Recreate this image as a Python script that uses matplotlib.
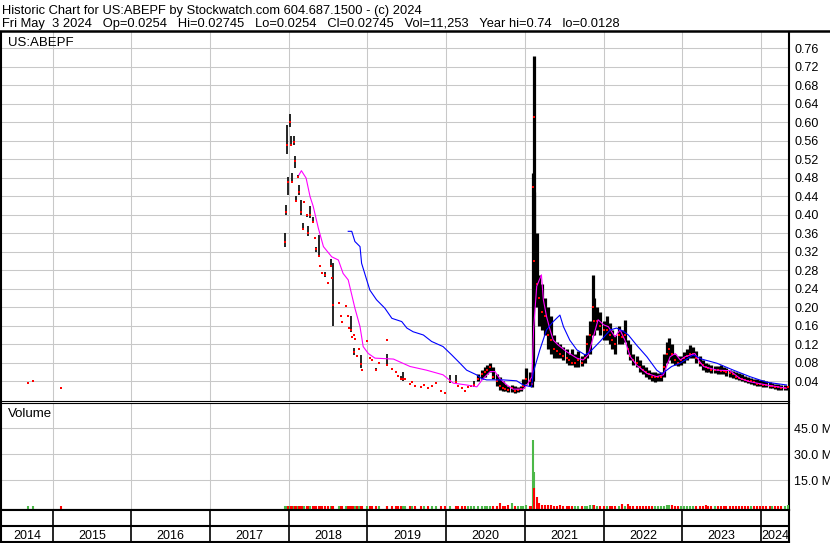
import numpy as np
import matplotlib
matplotlib.use("Agg")
import matplotlib.pyplot as plt
from matplotlib.lines import Line2D

plt.rcParams['font.family'] = ['Liberation Sans', 'DejaVu Sans']

### Datos (fechas en años fraccionarios, precios en USD, volumen en millones)
fechas = [2014.69, 2014.75, 2015.10,
          2017.95, 2017.97, 2017.975, 2017.985, 2018.02, 2018.03, 2018.045, 2018.065, 2018.08, 2018.09,
          2018.115, 2018.125, 2018.155, 2018.175, 2018.19, 2018.23, 2018.245, 2018.265, 2018.31, 2018.335,
          2018.345, 2018.385, 2018.40, 2018.42, 2018.465, 2018.50, 2018.53, 2018.55, 2018.565, 2018.64,
          2018.665, 2018.675, 2018.725, 2018.75, 2018.76, 2018.795, 2018.80, 2018.825, 2018.83, 2018.845,
          2018.87, 2018.895, 2018.92, 2018.93, 2019.0, 2019.03, 2019.06, 2019.11, 2019.145, 2019.245,
          2019.25, 2019.315, 2019.36, 2019.39, 2019.42, 2019.445, 2019.475, 2019.54, 2019.565, 2019.60,
          2019.675, 2019.72, 2019.77, 2019.82, 2019.87, 2019.935, 2019.985, 2020.05, 2020.12, 2020.15,
          2020.20, 2020.24, 2020.28, 2020.32, 2020.355,
          2020.41, 2020.45, 2020.49, 2020.52, 2020.56, 2020.60, 2020.64, 2020.68, 2020.72, 2020.75,
          2020.79, 2020.83, 2020.87, 2020.91, 2020.95, 2020.98, 2021.02, 2021.06, 2021.085, 2021.105,
          2021.112, 2021.12, 2021.15, 2021.18, 2021.22, 2021.26, 2021.30, 2021.33, 2021.37, 2021.41,
          2021.45, 2021.49, 2021.53, 2021.56, 2021.60, 2021.64, 2021.68, 2021.72, 2021.76, 2021.79,
          2021.83, 2021.86, 2021.88, 2021.92, 2021.96, 2022.00, 2022.04, 2022.08, 2022.11, 2022.15,
          2022.19, 2022.23, 2022.27, 2022.31, 2022.34, 2022.38, 2022.42, 2022.46, 2022.50, 2022.54,
          2022.58, 2022.61, 2022.65, 2022.69, 2022.73, 2022.77, 2022.81, 2022.83, 2022.87, 2022.91,
          2022.95, 2022.99, 2023.02, 2023.06, 2023.10, 2023.14, 2023.18, 2023.22, 2023.26, 2023.30,
          2023.33, 2023.37, 2023.41, 2023.45, 2023.49, 2023.53, 2023.56, 2023.60, 2023.64, 2023.68,
          2023.72, 2023.76, 2023.80, 2023.84, 2023.87, 2023.91, 2023.95, 2023.99, 2024.03, 2024.07,
          2024.11, 2024.14, 2024.18, 2024.22, 2024.26, 2024.30, 2024.34]
altos = [0.038, 0.041, 0.026,
         0.360, 0.420, 0.594, 0.482, 0.618, 0.570, 0.490, 0.570, 0.526, 0.440,
         0.485, 0.464, 0.432, 0.382, 0.430, 0.400, 0.375, 0.418, 0.396, 0.352,
         0.331, 0.356, 0.292, 0.277, 0.277, 0.255, 0.304, 0.265, 0.295, 0.212,
         0.182, 0.170, 0.205, 0.182, 0.158, 0.180, 0.137, 0.141, 0.111, 0.133,
         0.097, 0.111, 0.097, 0.066, 0.130, 0.092, 0.087, 0.068, 0.081, 0.131,
         0.100, 0.068, 0.062, 0.054, 0.051, 0.061, 0.047, 0.037, 0.041, 0.032,
         0.029, 0.035, 0.027, 0.032, 0.038, 0.022, 0.017, 0.054, 0.053, 0.032,
         0.027, 0.022, 0.030, 0.032, 0.040,
         0.055, 0.065, 0.070, 0.075, 0.079, 0.070, 0.055, 0.050, 0.040, 0.035,
         0.030, 0.032, 0.030, 0.028, 0.030, 0.045, 0.068, 0.060, 0.045, 0.490,
         0.742, 0.450, 0.360, 0.270, 0.250, 0.220, 0.200, 0.180, 0.140, 0.125,
         0.120, 0.115, 0.110, 0.100, 0.110, 0.100, 0.105, 0.095, 0.100, 0.140,
         0.170, 0.270, 0.220, 0.200, 0.190, 0.170, 0.180, 0.165, 0.150, 0.140,
         0.160, 0.150, 0.173, 0.130, 0.120, 0.100, 0.095, 0.085, 0.075, 0.070,
         0.065, 0.060, 0.060, 0.058, 0.060, 0.100, 0.125, 0.133, 0.120, 0.100,
         0.095, 0.095, 0.104, 0.110, 0.118, 0.115, 0.105, 0.095, 0.085, 0.080,
         0.078, 0.075, 0.073, 0.072, 0.075, 0.070, 0.068, 0.065, 0.063, 0.060,
         0.057, 0.055, 0.052, 0.050, 0.048, 0.045, 0.044, 0.043, 0.042, 0.040,
         0.038, 0.036, 0.035, 0.034, 0.033, 0.032, 0.030]
bajos = [0.036, 0.040, 0.026,
         0.330, 0.400, 0.530, 0.443, 0.590, 0.550, 0.468, 0.550, 0.500, 0.428,
         0.480, 0.443, 0.400, 0.367, 0.425, 0.395, 0.353, 0.392, 0.382, 0.347,
         0.320, 0.309, 0.288, 0.273, 0.266, 0.251, 0.288, 0.261, 0.160, 0.208,
         0.178, 0.166, 0.201, 0.178, 0.154, 0.147, 0.133, 0.137, 0.097, 0.129,
         0.093, 0.107, 0.068, 0.062, 0.126, 0.088, 0.083, 0.062, 0.077, 0.127,
         0.072, 0.064, 0.058, 0.050, 0.043, 0.040, 0.043, 0.033, 0.037, 0.028,
         0.025, 0.031, 0.023, 0.028, 0.034, 0.018, 0.013, 0.036, 0.036, 0.028,
         0.023, 0.018, 0.026, 0.028, 0.028,
         0.040, 0.045, 0.050, 0.055, 0.060, 0.045, 0.030, 0.021, 0.020, 0.018,
         0.016, 0.017, 0.015, 0.016, 0.018, 0.025, 0.035, 0.030, 0.028, 0.040,
         0.200, 0.220, 0.200, 0.160, 0.150, 0.140, 0.110, 0.100, 0.090, 0.090,
         0.090, 0.085, 0.080, 0.075, 0.075, 0.070, 0.070, 0.072, 0.080, 0.090,
         0.100, 0.140, 0.140, 0.150, 0.140, 0.130, 0.130, 0.120, 0.110, 0.100,
         0.120, 0.120, 0.125, 0.100, 0.085, 0.075, 0.070, 0.060, 0.055, 0.050,
         0.045, 0.040, 0.038, 0.040, 0.040, 0.050, 0.080, 0.085, 0.080, 0.075,
         0.072, 0.075, 0.080, 0.085, 0.090, 0.090, 0.080, 0.072, 0.065, 0.060,
         0.060, 0.058, 0.057, 0.056, 0.055, 0.055, 0.052, 0.050, 0.048, 0.045,
         0.042, 0.040, 0.038, 0.036, 0.035, 0.032, 0.030, 0.030, 0.028, 0.027,
         0.026, 0.025, 0.024, 0.022, 0.021, 0.021, 0.022]
cierres = [0.037, 0.041, 0.026,
           0.340, 0.405, 0.550, 0.470, 0.600, 0.550, 0.470, 0.556, 0.515, 0.430,
           0.482, 0.450, 0.405, 0.370, 0.427, 0.400, 0.360, 0.400, 0.385, 0.349,
           0.325, 0.310, 0.290, 0.275, 0.270, 0.253, 0.290, 0.263, 0.205, 0.210,
           0.180, 0.168, 0.203, 0.180, 0.156, 0.150, 0.135, 0.139, 0.104, 0.131,
           0.095, 0.109, 0.078, 0.064, 0.128, 0.090, 0.085, 0.065, 0.079, 0.129,
           0.075, 0.066, 0.060, 0.052, 0.045, 0.045, 0.045, 0.035, 0.039, 0.030,
           0.027, 0.033, 0.025, 0.030, 0.036, 0.020, 0.015, 0.040, 0.038, 0.030,
           0.025, 0.020, 0.028, 0.030, 0.032,
           0.045, 0.055, 0.060, 0.065, 0.070, 0.050, 0.040, 0.030, 0.025, 0.024,
           0.022, 0.025, 0.020, 0.022, 0.024, 0.030, 0.045, 0.040, 0.035, 0.460,
           0.610, 0.300, 0.250, 0.220, 0.190, 0.180, 0.140, 0.130, 0.110, 0.105,
           0.100, 0.095, 0.090, 0.085, 0.080, 0.080, 0.085, 0.080, 0.090, 0.120,
           0.140, 0.200, 0.170, 0.170, 0.160, 0.150, 0.150, 0.140, 0.130, 0.120,
           0.140, 0.135, 0.140, 0.110, 0.095, 0.085, 0.080, 0.070, 0.065, 0.060,
           0.055, 0.050, 0.050, 0.050, 0.050, 0.070, 0.100, 0.110, 0.100, 0.085,
           0.080, 0.085, 0.090, 0.095, 0.100, 0.100, 0.090, 0.080, 0.075, 0.070,
           0.068, 0.065, 0.065, 0.064, 0.063, 0.062, 0.060, 0.057, 0.055, 0.050,
           0.048, 0.045, 0.043, 0.040, 0.040, 0.038, 0.035, 0.034, 0.033, 0.032,
           0.030, 0.030, 0.028, 0.027, 0.026, 0.026, 0.027]
volumen = [0.3, 0.2, 0.2,
           0.3, 0.3, 0.4, 0.3, 0.4, 0.3, 0.3, 0.3, 0.3, 0.2,
           0.2, 0.3, 0.3, 0.3, 0.2, 0.2, 0.3, 0.3, 0.2, 0.2,
           0.2, 0.3, 0.2, 0.2, 0.2, 0.2, 0.3, 0.2, 0.4, 0.2,
           0.2, 0.2, 0.2, 0.2, 0.2, 0.3, 0.2, 0.2, 0.3, 0.2,
           0.2, 0.2, 0.3, 0.2, 0.2, 0.2, 0.2, 0.2, 0.2, 0.2,
           0.3, 0.2, 0.2, 0.2, 0.2, 0.3, 0.2, 0.2, 0.2, 0.2,
           0.2, 0.2, 0.2, 0.2, 0.2, 0.2, 0.2, 0.3, 0.3, 0.2,
           0.2, 0.2, 0.2, 0.2, 0.3,
           0.3, 0.3, 0.4, 0.3, 0.4, 0.3, 0.3, 1.7, 0.3, 0.3,
           0.8, 1.7, 0.3, 0.3, 0.4, 0.4, 0.5, 0.4, 0.4, 38.3,
           20.0, 10.7, 5.5, 2.0, 1.0, 0.6, 0.5, 0.5, 0.4, 0.4,
           0.5, 0.4, 0.4, 0.3, 0.4, 0.3, 0.3, 0.3, 0.3, 0.4,
           0.8, 0.6, 0.5, 0.4, 0.4, 0.3, 0.3, 0.3, 0.3, 0.3,
           0.4, 1.3, 0.4, 1.3, 0.4, 0.3, 0.3, 0.3, 0.3, 0.3,
           0.3, 0.3, 0.3, 0.3, 0.3, 0.4, 0.5, 0.6, 0.5, 0.3,
           0.3, 0.3, 0.3, 0.3, 0.3, 0.3, 0.3, 0.3, 0.3, 0.8,
           0.3, 0.3, 0.3, 0.3, 0.3, 0.3, 0.3, 0.3, 0.3, 0.3,
           0.3, 0.3, 0.3, 0.3, 0.3, 0.3, 0.3, 0.3, 0.3, 0.3,
           0.3, 0.3, 0.3, 0.3, 0.3, 0.3, 0.5]

# media corta (magenta)
mm_corta_x = [2018.13, 2018.16, 2018.22, 2018.27, 2018.31, 2018.375, 2018.44, 2018.545, 2018.63, 2018.69,
              2018.755, 2018.84, 2018.905, 2018.945, 2019.01, 2019.095, 2019.33, 2019.54, 2019.75, 2019.96,
              2020.09, 2020.26, 2020.39, 2020.47, 2020.56, 2020.62, 2020.68, 2020.77, 2020.85, 2020.98,
              2021.04, 2021.09, 2021.11, 2021.15, 2021.21, 2021.235, 2021.275, 2021.32, 2021.36, 2021.425,
              2021.53, 2021.66, 2021.74, 2021.805, 2021.87, 2021.93, 2022.0, 2022.06, 2022.145, 2022.21,
              2022.27, 2022.34, 2022.42, 2022.55, 2022.675, 2022.76, 2022.845, 2022.91, 2022.975, 2023.035,
              2023.16, 2023.205, 2023.27, 2023.44, 2023.605, 2023.735, 2023.86, 2024.07, 2024.325]
mm_corta_y = [0.486, 0.495, 0.479, 0.439, 0.418, 0.371, 0.331, 0.309, 0.302, 0.273,
              0.259, 0.198, 0.158, 0.115, 0.100, 0.090, 0.088, 0.072, 0.064, 0.054,
              0.036, 0.032, 0.028, 0.046, 0.061, 0.061, 0.046, 0.032, 0.023, 0.023,
              0.036, 0.050, 0.151, 0.245, 0.270, 0.216, 0.180, 0.151, 0.129, 0.118,
              0.104, 0.090, 0.086, 0.097, 0.136, 0.173, 0.162, 0.158, 0.136, 0.151,
              0.129, 0.093, 0.075, 0.057, 0.050, 0.054, 0.093, 0.100, 0.086, 0.093,
              0.100, 0.086, 0.072, 0.064, 0.063, 0.046, 0.039, 0.032, 0.025]

# media larga (azul)
mm_larga_x = [2018.755, 2018.80, 2018.84, 2018.905, 2018.925, 2018.99, 2019.03, 2019.115, 2019.22, 2019.31,
              2019.435, 2019.50, 2019.58, 2019.71, 2019.815, 2019.96, 2020.07, 2020.175, 2020.26, 2020.385,
              2020.45, 2020.515, 2020.725, 2020.895, 2020.98, 2021.085, 2021.105, 2021.19, 2021.275, 2021.36,
              2021.445, 2021.49, 2021.57, 2021.66, 2021.765, 2021.83, 2021.955, 2022.085, 2022.165, 2022.25,
              2022.315, 2022.42, 2022.55, 2022.675, 2022.74, 2022.865, 2022.97, 2023.14, 2023.245, 2023.44,
              2023.65, 2023.86, 2024.07, 2024.325]
mm_larga_y = [0.364, 0.364, 0.342, 0.331, 0.295, 0.259, 0.237, 0.216, 0.198, 0.176,
              0.169, 0.155, 0.147, 0.140, 0.126, 0.115, 0.097, 0.079, 0.064, 0.054,
              0.046, 0.043, 0.043, 0.041, 0.032, 0.028, 0.058, 0.108, 0.151, 0.169,
              0.183, 0.158, 0.129, 0.108, 0.097, 0.104, 0.126, 0.151, 0.155, 0.148,
              0.140, 0.118, 0.093, 0.064, 0.056, 0.072, 0.079, 0.097, 0.088, 0.079,
              0.064, 0.050, 0.038, 0.032]

anios = [2014, 2015, 2016, 2017, 2018, 2019, 2020, 2021, 2022, 2023, 2024]
ticks_precio = [0.04, 0.08, 0.12, 0.16, 0.20, 0.24, 0.28, 0.32, 0.36, 0.40,
                0.44, 0.48, 0.52, 0.56, 0.60, 0.64, 0.68, 0.72, 0.76]
ticks_vol = [15.0, 30.0, 45.0]

titulo1 = "Historic Chart for US:ABEPF by Stockwatch.com 604.687.1500 - (c) 2024"
titulo2 = ("Fri May  3 2024   Op=0.0254   Hi=0.02745   Lo=0.0254   Cl=0.02745   "
           "Vol=11,253   Year hi=0.74   lo=0.0128")

### Figura
W, H = 830, 543
fig = plt.figure(figsize=(W / 100, H / 100), dpi=100)

def caja(x0, y0, x1, y1):
    # rectangulo en pixeles (origen arriba a la izquierda) -> coordenadas de figura
    return [x0 / W, 1 - y1 / H, (x1 - x0) / W, (y1 - y0) / H]

x_ini, x_fin = 2014.343, 2024.356
gris = '#c8c8c8'

ax = fig.add_axes(caja(1, 31.5, 789, 401))
av = fig.add_axes(caja(1, 402.7, 789, 509.5))
ad = fig.add_axes(caja(1, 509.5, 789, 542))

f = np.array(fechas)
hi = np.array(altos)
lo = np.array(bajos)
cl = np.array(cierres)
vol = np.array(volumen)

# precio
anchos = np.where(f >= 2020.38, 2.3, 1.2)
ax.vlines(f, lo, hi, colors='black', linewidths=anchos, zorder=3)
ax.plot(f, cl, 's', color='#ff0000', ms=2.1, mew=0, zorder=4)
ax.plot(mm_corta_x, mm_corta_y, color='#ff00ff', lw=0.8, zorder=5)
ax.plot(mm_larga_x, mm_larga_y, color='#0000ff', lw=0.8, zorder=5)
ax.set_xlim(x_ini, x_fin)
ax.set_ylim(-0.0026, 0.7957)
ax.set_yticks(ticks_precio)
ax.set_yticklabels([f"{t:.2f}" for t in ticks_precio])
ax.yaxis.tick_right()
ax.tick_params(axis='y', length=0, pad=3.6, labelsize=9)
ax.set_xticks(anios[1:])
ax.tick_params(axis='x', length=0, labelbottom=False)
ax.grid(True, color=gris, lw=0.75, zorder=0)
ax.text(0.009, 0.985, "US:ABEPF", transform=ax.transAxes, fontsize=9.5, va='top', ha='left')

# volumen
sube = np.concatenate([[True], cl[1:] >= cl[:-1]])
colores = np.where(sube, '#4cb848', '#ff0000')
v_min = -1.85
av.vlines(f, v_min, vol, colors=colores, linewidths=1.5, zorder=3)
av.set_xlim(x_ini, x_fin)
av.set_ylim(v_min, 59.6)
av.set_yticks(ticks_vol)
av.set_yticklabels([f"{t:.1f} M" for t in ticks_vol])
av.yaxis.tick_right()
av.tick_params(axis='y', length=0, pad=3.6, labelsize=9)
av.set_xticks(anios[1:])
av.tick_params(axis='x', length=0, labelbottom=False)
av.grid(True, color=gris, lw=0.75, zorder=0)
av.text(0.009, 0.95, "Volume", transform=av.transAxes, fontsize=9.5, va='top', ha='left')

# eje de fechas
ad.set_xlim(x_ini, x_fin)
ad.set_ylim(0, 1)
ad.set_xticks([])
ad.set_yticks([])
ad.axhline(0.5, color='black', lw=1.5)
ad.vlines(anios[1:], 0, 1, colors='black', lw=1.2)
limites = [x_ini] + anios[1:] + [x_fin]
for i, a in enumerate(anios):
    centro = (limites[i] + limites[i + 1]) / 2
    ad.text(centro, 0.085, str(a), ha='center', va='baseline', fontsize=9)

# bordes
for eje in (ax, av, ad):
    for lado in ('left', 'right'):
        eje.spines[lado].set_linewidth(1.5)
ax.spines['top'].set_visible(False)
ax.spines['bottom'].set_linewidth(0.8)
av.spines['top'].set_linewidth(0.8)
av.spines['bottom'].set_linewidth(1.5)
ad.spines['top'].set_linewidth(1.5)
ad.spines['bottom'].set_linewidth(1.5)

fig.add_artist(Line2D([0, 1], [1 - 31 / H, 1 - 31 / H], transform=fig.transFigure,
                      color='black', lw=1.8))

# cabecera
fig.text(2 / W, 1 - 14 / H, titulo1, fontsize=9.3, va='baseline', ha='left')
fig.text(2 / W, 1 - 27 / H, titulo2, fontsize=9.3, va='baseline', ha='left')

fig.savefig("out.png", dpi=100)
